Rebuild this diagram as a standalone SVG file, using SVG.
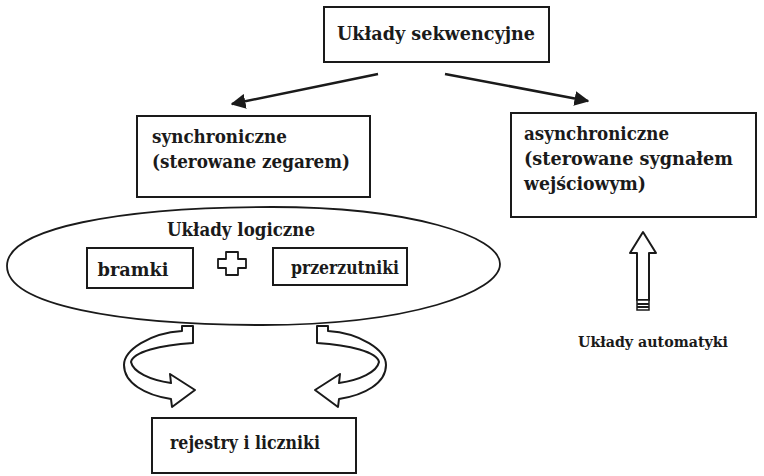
<svg xmlns="http://www.w3.org/2000/svg" width="764" height="476" viewBox="0 0 764 476">
<defs>
<style>
.box{fill:#fff;stroke:#1a1a1a;stroke-width:2}
.t{font-family:"DejaVu Serif","Liberation Serif",serif;font-weight:bold;font-size:19px;fill:#1a1a1a}
.line{stroke:#1a1a1a;stroke-width:2.5;fill:none}
.hollow{fill:#fff;stroke:#1a1a1a;stroke-width:2;stroke-linejoin:round}
</style>
<marker id="ah" viewBox="0 0 10 10" refX="9" refY="5" markerWidth="6" markerHeight="6" markerUnits="strokeWidth" orient="auto">
<path d="M0,0 L10,5 L0,10 Z" fill="#1a1a1a"/>
</marker>
</defs>
<rect width="764" height="476" fill="#fff"/>

<g id="connectors">
<line class="line" x1="378" y1="74" x2="232" y2="104" marker-end="url(#ah)"/>
<line class="line" x1="445" y1="74" x2="588" y2="101" marker-end="url(#ah)"/>
<path id="curl-left" class="hollow" d="M182,326 L193,326 L193,343 C160,345 133,352 131,362 C133,372 150,380 171,383 L170,374 L195,390 L172,407 L171,399 C145,395 124,383 124,365 C124,350 150,333 182,331 Z"/>
<g transform="translate(510,0) scale(-1,1)">
<path class="hollow" d="M182,326 L193,326 L193,343 C160,345 133,352 131,362 C133,372 150,380 171,383 L170,374 L195,390 L172,407 L171,399 C145,395 124,383 124,365 C124,350 150,333 182,331 Z"/>
</g>
<path id="up-arrow" class="hollow" d="M637,300 L637,253 L630,253 L643,232 L656,253 L649,253 L649,300 Z"/>
<rect x="637" y="300" width="12" height="10" fill="#fff" stroke="#1a1a1a" stroke-width="1.5"/>
<line x1="637" y1="304" x2="649" y2="304" stroke="#1a1a1a" stroke-width="2"/>
<line x1="637" y1="307" x2="649" y2="307" stroke="#1a1a1a" stroke-width="2"/>
</g>

<g id="n-top">
<rect class="box" x="324" y="7" width="225" height="55"/>
<text class="t" x="436" y="40" text-anchor="middle" textLength="198" lengthAdjust="spacingAndGlyphs">Układy sekwencyjne</text>
</g>

<g id="n-sync">
<rect class="box" x="137" y="116" width="233" height="81"/>
<text class="t" x="152" y="143" textLength="135" lengthAdjust="spacingAndGlyphs">synchroniczne</text>
<text class="t" x="152" y="168" textLength="198" lengthAdjust="spacingAndGlyphs">(sterowane zegarem)</text>
</g>

<g id="n-async">
<rect class="box" x="511" y="113" width="245" height="104"/>
<text class="t" x="524" y="140" textLength="145" lengthAdjust="spacingAndGlyphs">asynchroniczne</text>
<text class="t" x="524" y="165" textLength="209" lengthAdjust="spacingAndGlyphs">(sterowane sygnałem</text>
<text class="t" x="524" y="190" textLength="122" lengthAdjust="spacingAndGlyphs">wejściowym)</text>
</g>

<g id="n-logic">
<path d="M7,266 C7,228 120,207 272,207 C410,207 500,236 500,264 C500,292 410,325 262,325 C120,325 7,305 7,266 Z" fill="none" stroke="#1a1a1a" stroke-width="1.8"/>
<text class="t" x="241" y="236" text-anchor="middle" textLength="148" lengthAdjust="spacingAndGlyphs">Układy logiczne</text>
</g>

<g id="n-bramki">
<rect class="box" x="87" y="248" width="106" height="40"/>
<text class="t" x="133" y="276" text-anchor="middle" textLength="71" lengthAdjust="spacingAndGlyphs">bramki</text>
</g>

<g id="n-plus">
<path d="M226,252 L238,252 L238,259 L246,259 L246,268 L238,268 L238,275 L226,275 L226,268 L218,268 L218,259 L226,259 Z" fill="#fff" stroke="#1a1a1a" stroke-width="1.8" stroke-linejoin="round"/>
</g>

<g id="n-przerzutniki">
<rect class="box" x="273" y="248" width="134" height="37"/>
<text class="t" x="345" y="274" text-anchor="middle" textLength="108" lengthAdjust="spacingAndGlyphs">przerzutniki</text>
</g>

<g id="n-rejestry">
<rect class="box" x="152" y="418" width="204" height="55"/>
<text class="t" x="245" y="449" text-anchor="middle" textLength="150" lengthAdjust="spacingAndGlyphs">rejestry i liczniki</text>
</g>

<g id="n-automatyki">
<text class="t" x="653" y="347" text-anchor="middle" textLength="150" lengthAdjust="spacingAndGlyphs" style="font-size:15px">Układy automatyki</text>
</g>
</svg>
